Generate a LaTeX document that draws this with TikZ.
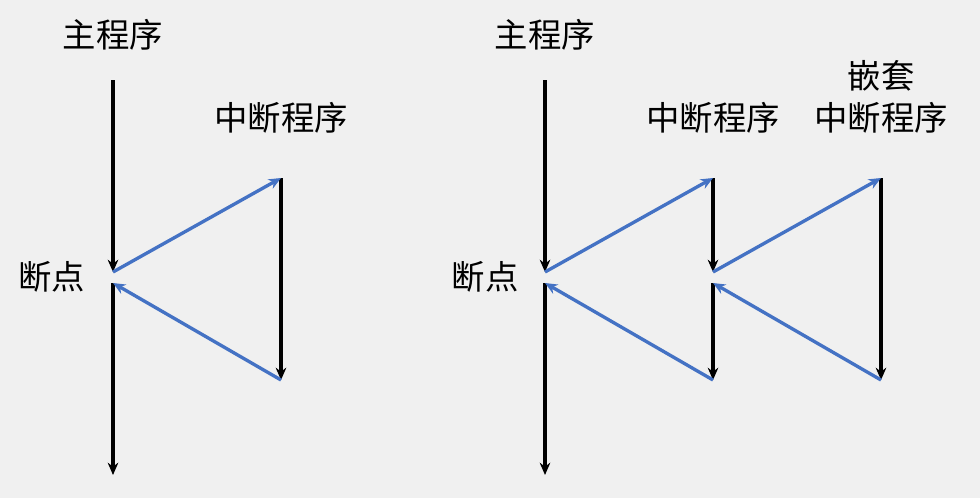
\documentclass[tikz,border=0pt]{standalone}
\usepackage{fontspec}
\newfontfamily\cjk{Noto Sans CJK SC}
\usepackage{tikz}
\usetikzlibrary{arrows.meta}
\definecolor{bgray}{HTML}{F0F0F0}
\definecolor{lblue}{HTML}{4472C4}
\tikzset{
  flow/.style={line width=1.9pt, -{Stealth[length=7pt,width=6pt]}},
  jump/.style={line width=1.9pt, lblue, -{Stealth[length=7pt,width=6pt]}},
  lbl/.style={font=\cjk\fontsize{19}{22}\selectfont, inner sep=0pt}
}
\begin{document}
\begin{tikzpicture}[x=0.02cm, y=-0.02cm]
  \fill[bgray] (0,0) rectangle (980,498);

  % left: one interrupt
  \coordinate (a1) at (113,80);  \coordinate (a2) at (113,272);
  \coordinate (a3) at (113,283); \coordinate (a4) at (113,475);
  \coordinate (b1) at (281,178); \coordinate (b2) at (281,380);
  \node[lbl] (main1) at (113,35) {主程序};
  \node[lbl] (isr1) at (281,118) {中断程序};
  \node[lbl] (bp1) at (52,277) {断点};
  \draw[flow] (a1) -- (a2);
  \draw[flow] (a3) -- (a4);
  \draw[flow] (b1) -- (b2);
  \draw[jump] (a2) -- (b1);
  \draw[jump] (b2) -- (a3);

  % right: nested interrupt
  \coordinate (c1) at (545,80);  \coordinate (c2) at (545,272);
  \coordinate (c3) at (545,283); \coordinate (c4) at (545,475);
  \coordinate (d1) at (713,178); \coordinate (d2) at (713,272);
  \coordinate (d3) at (713,283); \coordinate (d4) at (713,380);
  \coordinate (e1) at (881,178); \coordinate (e2) at (881,380);
  \node[lbl] (main2) at (545,35) {主程序};
  \node[lbl] (isr2) at (713,118) {中断程序};
  \node[lbl] (nest) at (881,76) {嵌套};
  \node[lbl] (isr3) at (881,118) {中断程序};
  \node[lbl] (bp2) at (485,277) {断点};
  \draw[flow] (c1) -- (c2);
  \draw[flow] (c3) -- (c4);
  \draw[flow] (d1) -- (d2);
  \draw[flow] (d3) -- (d4);
  \draw[flow] (e1) -- (e2);
  \draw[jump] (c2) -- (d1);
  \draw[jump] (d4) -- (c3);
  \draw[jump] (d2) -- (e1);
  \draw[jump] (e2) -- (d3);
\end{tikzpicture}
\end{document}
